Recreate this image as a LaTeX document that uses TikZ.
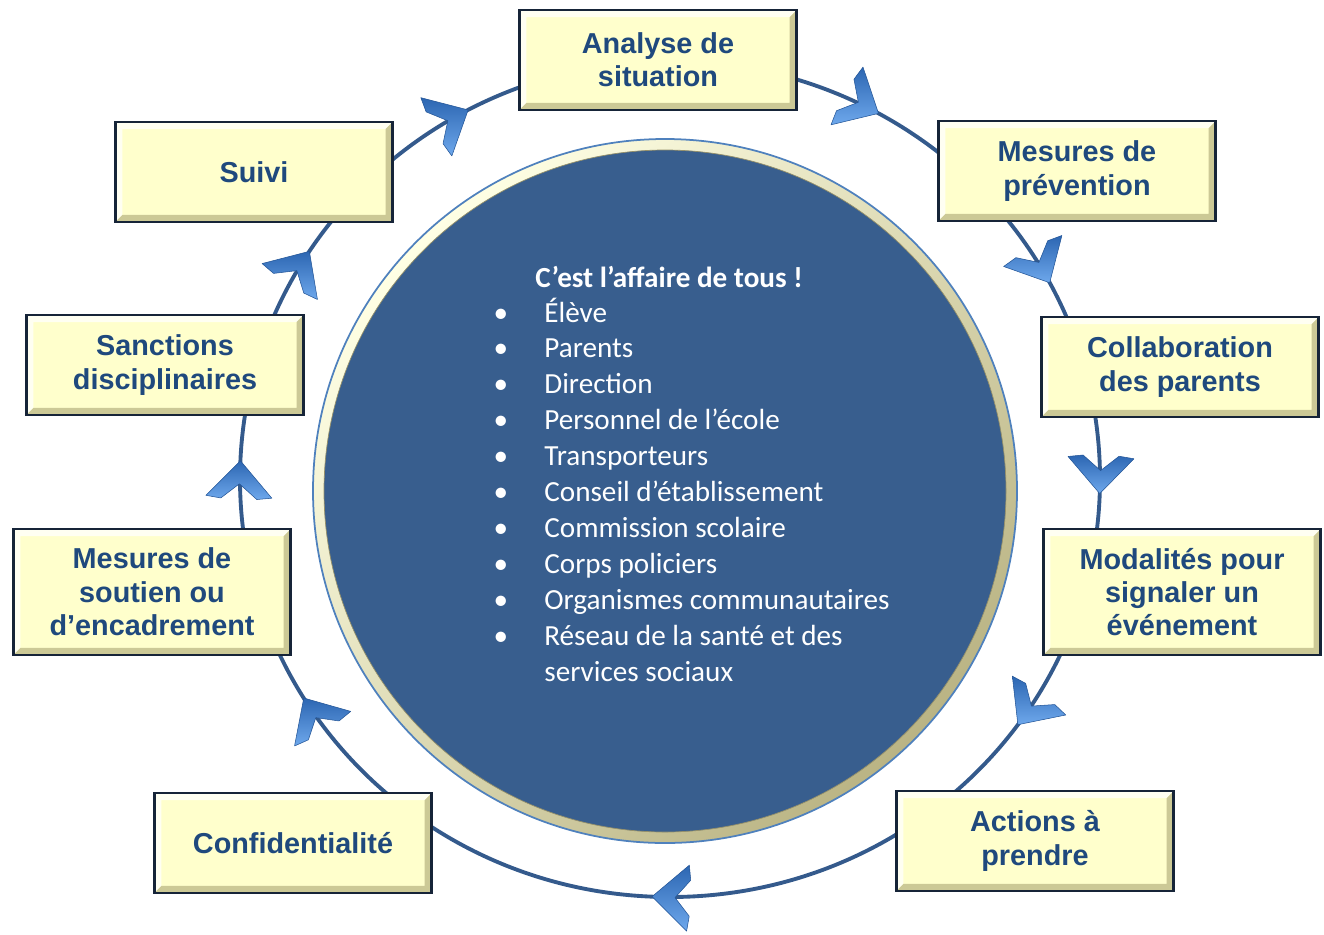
\documentclass[tikz,border=0pt]{standalone}
\usepackage{fontspec}
\setmainfont{Liberation Sans}
\newfontfamily\calibri{Carlito}
\definecolor{ringblue}{RGB}{52,90,140}
\definecolor{discblue}{RGB}{56,94,142}
\definecolor{rimblue}{RGB}{79,129,189}
\definecolor{bandlight}{RGB}{255,255,228}
\definecolor{banddark}{RGB}{186,180,132}
\definecolor{boxfill}{RGB}{255,255,204}
\definecolor{boxedge}{RGB}{22,36,56}
\definecolor{boxtext}{RGB}{31,73,125}
\definecolor{bevellight}{RGB}{255,255,242}
\definecolor{beveldark}{RGB}{204,201,150}
\definecolor{arrowdark}{RGB}{44,102,178}
\definecolor{arrowlight}{RGB}{110,168,236}
\definecolor{arrowedge}{RGB}{34,84,150}
\tikzset{
  stepbox/.style={draw=boxedge, line width=1.6pt, fill=boxfill,
    minimum width=5.55cm, minimum height=2cm, inner sep=0pt, align=center,
    text=boxtext, font=\fontsize{16.4}{19}\selectfont\bfseries,
    path picture={
      \fill[bevellight] (path picture bounding box.north west)
        -- (path picture bounding box.north east)
        -- ([xshift=-4pt,yshift=-4pt]path picture bounding box.north east)
        -- ([xshift=4pt,yshift=-4pt]path picture bounding box.north west)
        -- ([xshift=4pt,yshift=4pt]path picture bounding box.south west)
        -- (path picture bounding box.south west) -- cycle;
      \fill[beveldark] (path picture bounding box.south west)
        -- (path picture bounding box.south east)
        -- (path picture bounding box.north east)
        -- ([xshift=-4pt,yshift=-4pt]path picture bounding box.north east)
        -- ([xshift=-4pt,yshift=4pt]path picture bounding box.south east)
        -- ([xshift=4pt,yshift=4pt]path picture bounding box.south west) -- cycle;
    }},
  tallbox/.style={minimum height=2.52cm},
  itemtext/.style={inner sep=0pt, text=white, font=\calibri\fontsize{16.6}{20.3}\selectfont},
  titletext/.style={itemtext, font=\calibri\bfseries\fontsize{16.6}{20.3}\selectfont},
  chevron/.pic={
    \shade[top color=arrowdark, bottom color=arrowlight, draw=arrowedge,
      line width=0.3pt, line join=round]
      (0,0) -- (-36,33) -- (-38,18) -- (-23,0) -- (-38,-18) -- (-36,-33) -- cycle;
  }
}
\begin{document}
\begin{tikzpicture}[x=0.02cm, y=0.02cm]
\useasboundingbox (0,0) rectangle (1324,-934);

% cycle ring
\draw[ringblue, line width=2.2pt] (670,-479) ellipse [x radius=430, y radius=418];

% central disc
\coordinate (c) at (665,-491);
\shade[top color=bandlight, bottom color=banddark, shading angle=45] (c) circle (352);
\draw[rimblue, line width=1pt] (c) circle (352);
\fill[discblue] (c) circle (341);
\draw[banddark!80!black, line width=0.4pt] (c) circle (341);

% arrowheads along the ring
\foreach \t in {118,61,28,-2,-36,-92.4,-148.4,177.5,147}
  \pic[rotate=\t-90] at ({670+430*cos(\t)},{-479+418*sin(\t)}) {chevron};

% steps
\node[stepbox] (analyse) at (658,-60) {Analyse de\\situation};
\node[stepbox] (prevention) at (1077,-171) {Mesures de\\prévention};
\node[stepbox] (collab) at (1180,-367) {Collaboration\\des parents};
\node[stepbox, tallbox] (signaler) at (1182,-592) {Modalités pour\\signaler un\\événement};
\node[stepbox] (actions) at (1035,-841) {Actions à\\prendre};
\node[stepbox] (confid) at (293,-843) {Confidentialité};
\node[stepbox, tallbox] (soutien) at (152,-592) {Mesures de\\soutien ou\\d’encadrement};
\node[stepbox] (sanctions) at (165,-365) {Sanctions\\disciplinaires};
\node[stepbox] (suivi) at (254,-172) {Suivi};

% list in the disc
\node[titletext, anchor=base west] (title) at (535,-287) {C’est l’affaire de tous !};
\foreach \txt [count=\i from 0] in {Élève, Parents, Direction, Personnel de l’école,
    Transporteurs, Conseil d’établissement, Commission scolaire, Corps policiers,
    Organismes communautaires, Réseau de la santé et des} {
  \node[itemtext, anchor=base] (bullet\i) at (501,{-322-35.9*\i}) {•};
  \node[itemtext, anchor=base west] (item\i) at (544,{-322-35.9*\i}) {\txt};
}
\node[itemtext, anchor=base west] (item10) at (544,-681) {services sociaux};
\end{tikzpicture}
\end{document}
